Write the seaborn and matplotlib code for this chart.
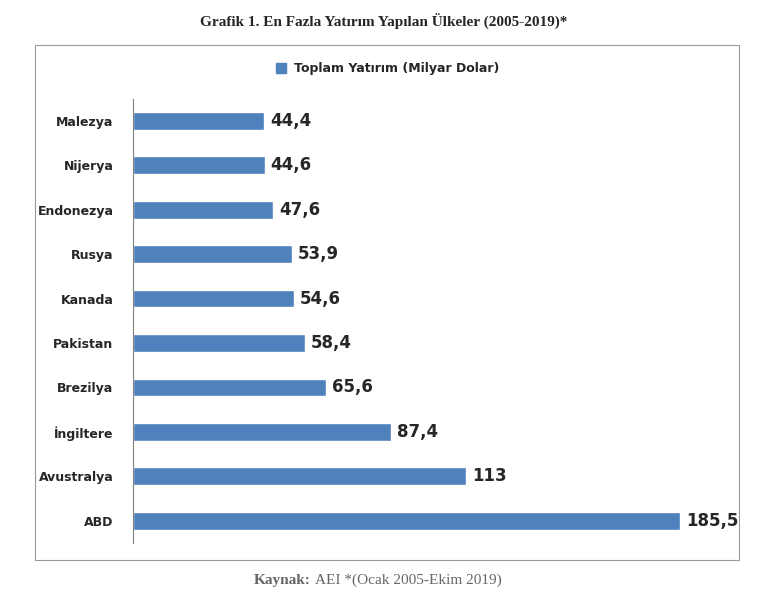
import matplotlib
matplotlib.use("Agg")
import matplotlib.pyplot as plt
import seaborn as sns
import pandas as pd
from matplotlib.patches import Rectangle
from matplotlib.lines import Line2D

countries = ["Malezya", "Nijerya", "Endonezya", "Rusya", "Kanada", "Pakistan",
             "Brezilya", "İngiltere", "Avustralya", "ABD"]
values = [44.4, 44.6, 47.6, 53.9, 54.6, 58.4, 65.6, 87.4, 113, 185.5]
labels = ["44,4", "44,6", "47,6", "53,9", "54,6", "58,4", "65,6", "87,4", "113", "185,5"]

df = pd.DataFrame({"country": countries, "value": values})
sns.set_style("white")
plt.rcParams['font.family'] = ['DejaVu Sans']

fig = plt.figure(figsize=(7.68, 6.03), dpi=100)
ax = fig.add_axes([0.173, 0.0995, 0.784, 0.737])
color = "#4F81BD"
sns.barplot(data=df, x="value", y="country", order=countries, color=color,
            width=0.4, saturation=1, ax=ax)
ax.set_xlim(0, 204)
ax.set_xlabel(""); ax.set_ylabel("")
ax.set_xticks([])
for s in ["top", "right", "bottom"]:
    ax.spines[s].set_visible(False)
ax.spines["left"].set_color("#808080")
ax.tick_params(axis="y", length=0, pad=14)
for t in ax.get_yticklabels():
    t.set_fontweight("bold"); t.set_fontsize(9)
for i, (v, l) in enumerate(zip(values, labels)):
    ax.text(v + 2, i, l, va="center", ha="left", fontsize=12, fontweight="bold")

h = [Line2D([], [], marker="s", color=color, linestyle="", markersize=7)]
fig.legend(h, ["Toplam Yatırım (Milyar Dolar)"], loc="center", bbox_to_anchor=(0.5, 0.886),
           frameon=False, prop={"weight": "bold", "size": 9}, handletextpad=0.1)

fig.patches.append(Rectangle((0.0456, 0.071), 0.917, 0.854, transform=fig.transFigure,
                             fill=False, edgecolor="#9a9a9a", linewidth=0.8))
fig.text(0.5, 0.963, "Grafik 1. En Fazla Yatırım Yapılan Ülkeler (2005-2019)*", ha="center",
         va="center", fontsize=11, fontweight="bold", family="Liberation Serif")
fig.text(0.405, 0.038, "Kaynak:", ha="right", va="center", fontsize=11, fontweight="bold",
         family="Liberation Serif", color="#666666")
fig.text(0.41, 0.038, "AEI *(Ocak 2005-Ekim 2019)", ha="left", va="center", fontsize=11,
         family="Liberation Serif", color="#666666")
fig.savefig("out.png", dpi=100)
